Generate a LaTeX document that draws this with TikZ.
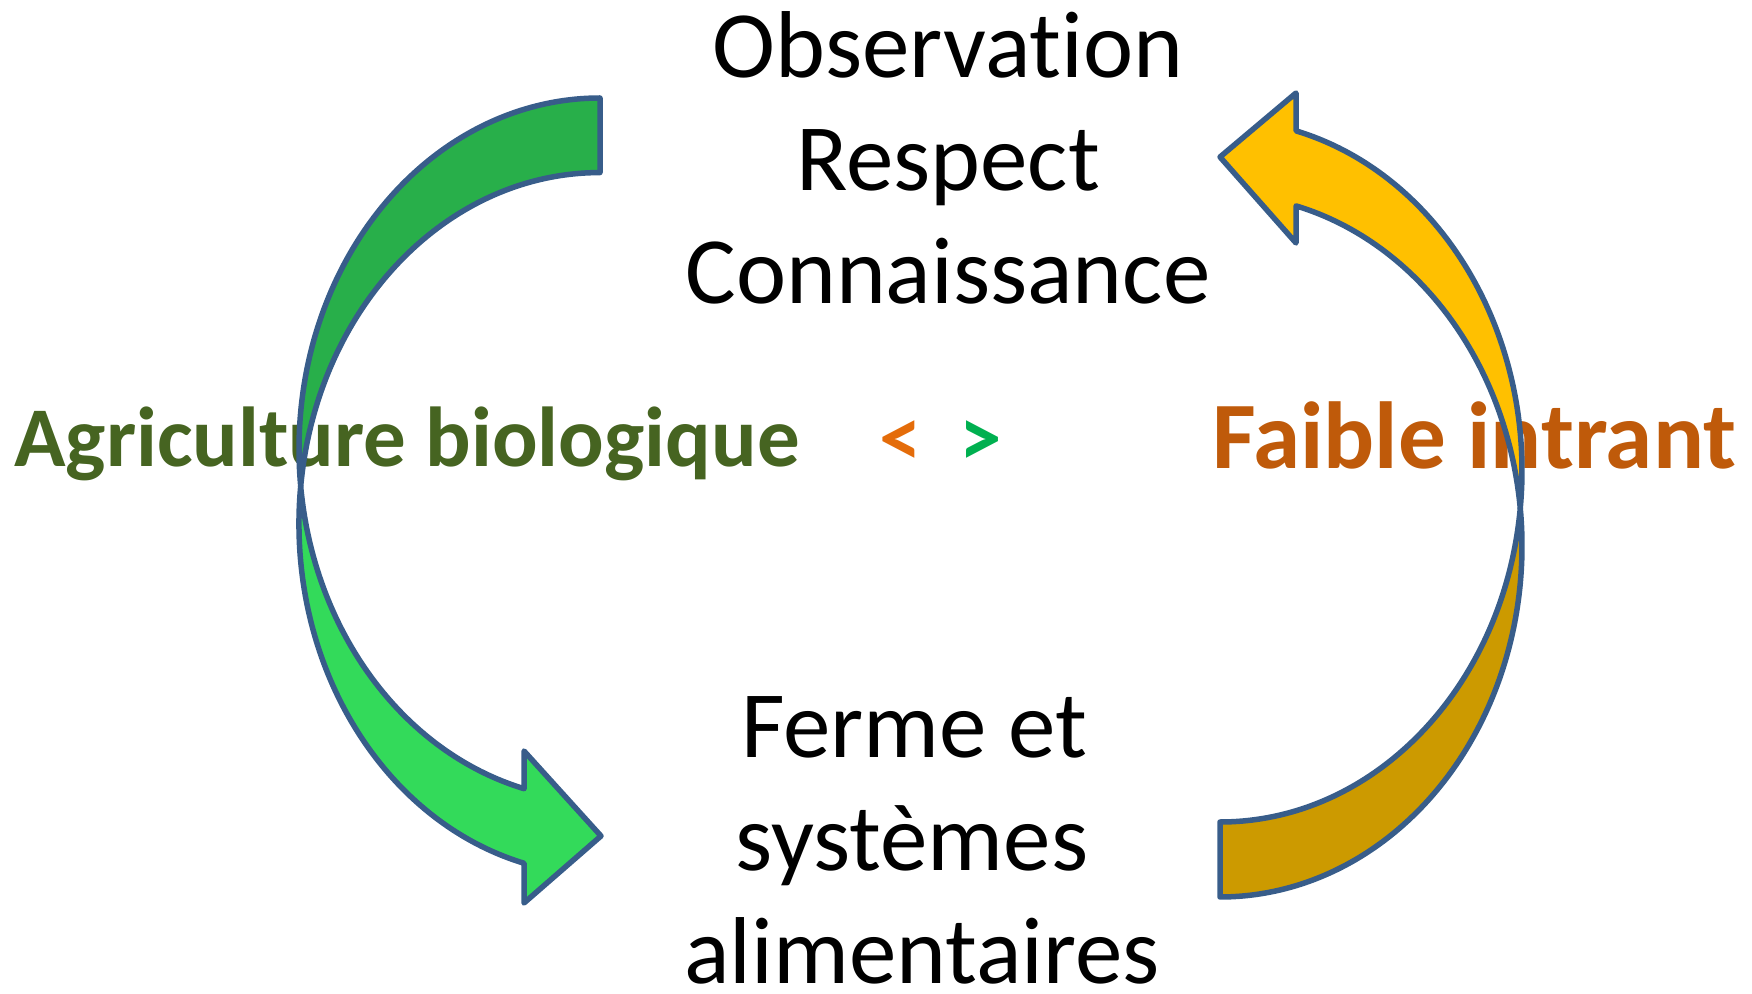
\documentclass[tikz,border=0pt]{standalone}
\usepackage{fontspec}
\setmainfont{Carlito}[Ligatures={NoCommon}]
\definecolor{arrowblue}{HTML}{385D8A}
\definecolor{greenback}{HTML}{28AF4A}
\definecolor{greenfront}{HTML}{33DA5A}
\definecolor{goldfront}{HTML}{FFC000}
\definecolor{goldback}{HTML}{CC9A00}
\definecolor{agrigreen}{HTML}{466421}
\definecolor{faibleorange}{HTML}{BF5A0A}
\definecolor{ltorange}{HTML}{E46C0A}
\definecolor{gtgreen}{HTML}{00B050}
\tikzset{
  bigtext/.style={font=\fontsize{47.5}{57}\selectfont, anchor=base, inner sep=0pt},
  sidetext/.style={font=\bfseries\fontsize{42.5}{51}\selectfont, anchor=base, inner sep=0pt},
  band/.style={draw=arrowblue, line width=2.75pt, line join=round},
}
\begin{document}
\begin{tikzpicture}[x=0.5pt, y=-0.5pt]
\useasboundingbox (0,0) rectangle (1752,994);
\node[bigtext] (obs) at (948,78) {Observation};
\node[bigtext] (resp) at (948,191) {Respect};
\node[bigtext] (conn) at (948,304) {Connaissance};
\node[bigtext] (ferme) at (914,757) {Ferme et};
\node[bigtext] (syst) at (912,870) {systèmes};
\node[bigtext] (alim) at (922,983) {alimentaires};
\node[sidetext, text=agrigreen] (agri) at (407,467) {Agriculture biologique};
\node[sidetext, text=faibleorange, font=\bfseries\fontsize{47.6}{57}\selectfont] (faible) at (1474,469) {Faible intrant};
\node[sidetext, text=ltorange] (lt) at (901,467) {<};
\node[sidetext, text=gtgreen] (gt) at (981,467) {>};
\draw[band, fill=greenback] (600,98)
  arc[start angle=270, end angle=173.9, x radius=301, y radius=351]
  arc[start angle=186.1, end angle=270, x radius=301, y radius=351] -- cycle;
\draw[band, fill=greenfront] (524.1,788.7)
  arc[start angle=104.6, end angle=173.9, x radius=301, y radius=351]
  arc[start angle=186.1, end angle=104.6, x radius=301, y radius=351]
  -- (524,903) -- (601,836) -- (524,751) -- cycle;
\draw[band, fill=goldback] (1220,822)
  arc[start angle=90, end angle=6.13, x radius=302, y radius=351.2]
  arc[start angle=-6.13, end angle=90, x radius=302, y radius=351.2] -- cycle;
\draw[band, fill=goldfront] (1296.1,130.9)
  arc[start angle=-75.4, end angle=6.13, x radius=302, y radius=351.2]
  arc[start angle=-6.13, end angle=-75.4, x radius=302, y radius=351.2]
  -- (1296,243) -- (1220,157) -- (1296,93) -- cycle;
\end{tikzpicture}
\end{document}
